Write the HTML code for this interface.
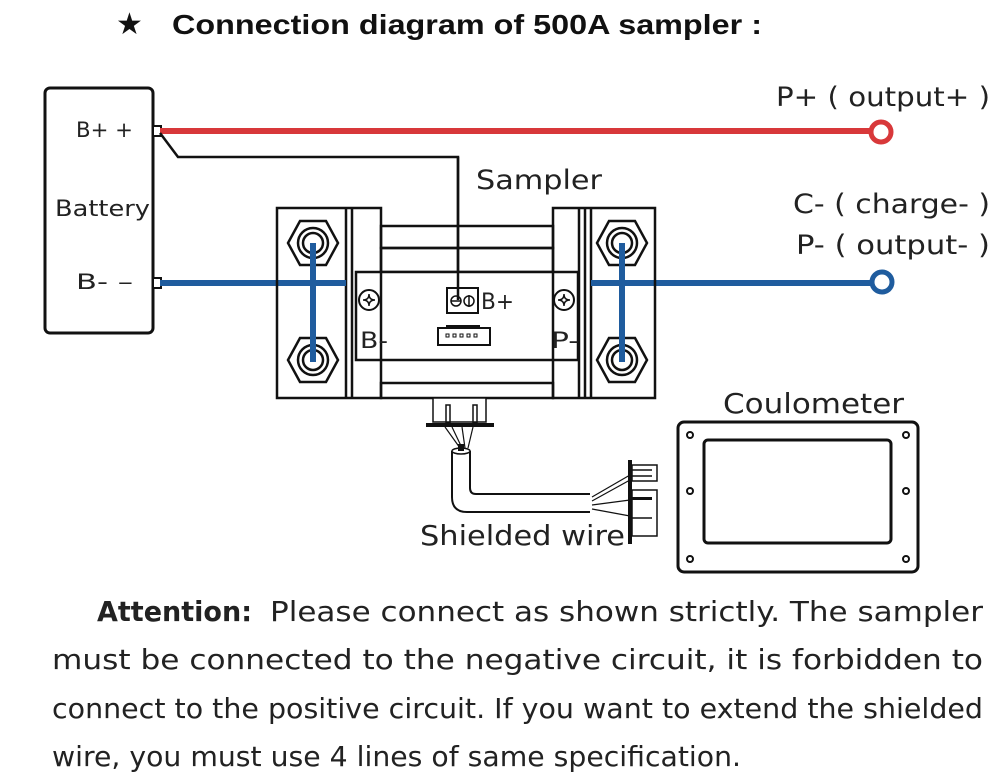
<!DOCTYPE html>
<html><head><meta charset="utf-8"><style>
html,body{margin:0;padding:0;background:#fff;}
svg{display:block;}
</style></head><body>
<svg width="1000" height="780" viewBox="0 0 1000 780" xmlns="http://www.w3.org/2000/svg" font-family="DejaVu Sans, Liberation Sans, sans-serif">
<!-- title -->
<text x="116" y="34" font-size="30" fill="#111">★</text>
<text x="172" y="34" font-size="28" font-weight="bold" fill="#111" font-family="Liberation Sans, sans-serif" textLength="590" lengthAdjust="spacingAndGlyphs">Connection diagram of 500A sampler :</text>

<!-- battery -->
<rect x="45" y="88" width="108" height="245" rx="5" fill="none" stroke="#111" stroke-width="3"/>
<text x="76" y="137" font-size="21" fill="#222" textLength="57" lengthAdjust="spacingAndGlyphs">B+  +</text>
<text x="55" y="216" font-size="22" fill="#222" textLength="95" lengthAdjust="spacingAndGlyphs">Battery</text>
<text x="76" y="289" font-size="21" fill="#222" textLength="57" lengthAdjust="spacingAndGlyphs">B-  –</text>
<rect x="153" y="126" width="8" height="10" fill="#fff" stroke="#111" stroke-width="2"/>
<rect x="153" y="278" width="8" height="10" fill="#fff" stroke="#111" stroke-width="2"/>

<!-- red line -->
<line x1="160" y1="131" x2="870" y2="131" stroke="#d8383a" stroke-width="6"/>
<circle cx="881" cy="132" r="10" fill="#fff" stroke="#d8383a" stroke-width="5"/>
<text x="776" y="106" font-size="27" fill="#222" textLength="214" lengthAdjust="spacingAndGlyphs">P+ ( output+ )</text>

<!-- thin black wire -->
<polyline points="160,133 178,157 458,157 458,300" fill="none" stroke="#111" stroke-width="2.5"/>

<!-- blue line -->
<line x1="160" y1="283" x2="313" y2="283" stroke="#1f5c9e" stroke-width="6"/>
<line x1="622" y1="283" x2="872" y2="283" stroke="#1f5c9e" stroke-width="6"/>
<circle cx="882" cy="282" r="10" fill="#fff" stroke="#1f5c9e" stroke-width="5"/>
<text x="793" y="213" font-size="27" fill="#222" textLength="197" lengthAdjust="spacingAndGlyphs">C- ( charge- )</text>
<text x="796" y="254" font-size="27" fill="#222" textLength="194" lengthAdjust="spacingAndGlyphs">P- ( output- )</text>
<text x="476" y="189" font-size="27" fill="#222" textLength="126" lengthAdjust="spacingAndGlyphs">Sampler</text>

<!-- sampler -->
<g fill="none" stroke="#111" stroke-width="2.5">
<rect x="381" y="226" width="172" height="22"/>
<rect x="381" y="248" width="172" height="24"/>
<rect x="381" y="383" width="172" height="15"/>
<rect x="356" y="272" width="222" height="88" fill="#fff"/>
<rect x="277" y="208" width="104" height="190"/>
<line x1="346" y1="208" x2="346" y2="398"/>
<line x1="352" y1="208" x2="352" y2="398"/>
<rect x="553" y="208" width="102" height="190"/>
<line x1="579" y1="208" x2="579" y2="398"/>
<line x1="585" y1="208" x2="585" y2="398"/>
<line x1="591" y1="208" x2="591" y2="398"/>
</g>
<!-- hex nuts -->
<g fill="#fff" stroke="#111" stroke-width="2.5">
<polygon points="288,243 300,221 326,221 338,243 326,265 300,265"/>
<circle cx="313" cy="243" r="15"/><circle cx="313" cy="243" r="10"/>
<polygon points="288,360 300,338 326,338 338,360 326,382 300,382"/>
<circle cx="313" cy="360" r="15"/><circle cx="313" cy="360" r="10"/>
<polygon points="597,243 609,221 635,221 647,243 635,265 609,265"/>
<circle cx="622" cy="243" r="15"/><circle cx="622" cy="243" r="10"/>
<polygon points="597,360 609,338 635,338 647,360 635,382 609,382"/>
<circle cx="622" cy="360" r="15"/><circle cx="622" cy="360" r="10"/>
</g>
<line x1="313" y1="243" x2="313" y2="362" stroke="#1f5c9e" stroke-width="6"/>
<line x1="622" y1="243" x2="622" y2="362" stroke="#1f5c9e" stroke-width="6"/>
<line x1="313" y1="283" x2="346" y2="283" stroke="#1f5c9e" stroke-width="6"/>
<line x1="591" y1="283" x2="622" y2="283" stroke="#1f5c9e" stroke-width="6"/>
<!-- screws -->
<g fill="#fff" stroke="#111" stroke-width="2">
<circle cx="369" cy="300" r="10"/><circle cx="564" cy="300" r="10"/>
</g>
<g fill="none" stroke="#111" stroke-width="1.5">
<path d="M363,300 Q369,300 369,294 Q369,300 375,300 Q369,300 369,306 Q369,300 363,300Z"/>
<path d="M558,300 Q564,300 564,294 Q564,300 570,300 Q564,300 564,306 Q564,300 558,300Z"/>
</g>
<!-- B+ terminal -->
<rect x="447" y="288" width="31" height="25" fill="#fff" stroke="#111" stroke-width="2"/>
<circle cx="456" cy="301" r="5" fill="none" stroke="#111" stroke-width="1.5"/>
<line x1="451" y1="301" x2="461" y2="301" stroke="#111" stroke-width="1.5"/>
<circle cx="469" cy="301" r="5" fill="none" stroke="#111" stroke-width="1.5"/>
<line x1="469" y1="295" x2="469" y2="307" stroke="#111" stroke-width="1.5"/>
<line x1="458" y1="157" x2="458" y2="300" stroke="#111" stroke-width="2.5"/>
<text x="481" y="309" font-size="22" fill="#222" textLength="33" lengthAdjust="spacingAndGlyphs">B+</text>
<text x="360" y="348" font-size="22" fill="#222" textLength="28" lengthAdjust="spacingAndGlyphs">B-</text>
<text x="551" y="348" font-size="22" fill="#222" textLength="28" lengthAdjust="spacingAndGlyphs">P-</text>
<!-- connector -->
<rect x="438" y="328" width="52" height="17" fill="#fff" stroke="#111" stroke-width="2"/>
<line x1="446" y1="326" x2="480" y2="326" stroke="#111" stroke-width="2"/>
<g fill="none" stroke="#111" stroke-width="1"><rect x="446" y="334" width="3" height="3"/><rect x="453" y="334" width="3" height="3"/><rect x="460" y="334" width="3" height="3"/><rect x="467" y="334" width="3" height="3"/><rect x="474" y="334" width="3" height="3"/></g>

<!-- bottom plug -->
<rect x="433" y="398" width="53" height="24" fill="#fff" stroke="#111" stroke-width="1.5"/>
<g fill="none" stroke="#111" stroke-width="1.5">
<rect x="446" y="405" width="4" height="18"/><rect x="473" y="405" width="4" height="18"/>
</g>
<rect x="426" y="423" width="68" height="4" fill="#111"/>
<g stroke="#111" stroke-width="1.2" fill="none">
<path d="M445,427 L460,448"/><path d="M452,427 L462,448"/><path d="M462,427 L465,448"/><path d="M473,427 L468,448"/>
</g>
<!-- cable -->
<path d="M452,451 L452,497 Q452,512 467,512 L590,512" fill="none" stroke="#111" stroke-width="2"/>
<path d="M470,451 L470,488 Q470,494 476,494 L590,494" fill="none" stroke="#111" stroke-width="2"/>
<ellipse cx="461" cy="451" rx="9" ry="3" fill="#fff" stroke="#111" stroke-width="1.5"/>
<rect x="458" y="444" width="6" height="7" fill="#111"/>
<g stroke="#111" stroke-width="1.2" fill="none">
<path d="M592,497 L630,475"/><path d="M592,501 L630,480"/><path d="M592,505 L630,500"/><path d="M592,509 L630,516"/>
</g>
<rect x="628" y="460" width="4" height="84" fill="#111"/>
<g fill="none" stroke="#111" stroke-width="1.5">
<rect x="632" y="465" width="25" height="16"/>
<rect x="632" y="490" width="25" height="46"/>
<line x1="632" y1="470" x2="652" y2="470"/><line x1="632" y1="476" x2="652" y2="476"/>
<line x1="632" y1="518" x2="652" y2="518"/>
</g>
<rect x="632" y="497" width="20" height="3" fill="#111"/>
<text x="420" y="545" font-size="28" fill="#222" textLength="205" lengthAdjust="spacingAndGlyphs">Shielded wire</text>

<!-- coulometer -->
<text x="723" y="413" font-size="28" fill="#222" textLength="181" lengthAdjust="spacingAndGlyphs">Coulometer</text>
<rect x="678" y="422" width="240" height="150" rx="6" fill="none" stroke="#111" stroke-width="3"/>
<rect x="704" y="440" width="187" height="103" rx="4" fill="none" stroke="#111" stroke-width="3"/>
<g fill="none" stroke="#111" stroke-width="2">
<circle cx="690" cy="435" r="3"/><circle cx="690" cy="491" r="3"/><circle cx="690" cy="559" r="3"/>
<circle cx="906" cy="435" r="3"/><circle cx="906" cy="491" r="3"/><circle cx="906" cy="559" r="3"/>
</g>

<!-- attention text -->
<g font-size="28" fill="#222">
<text x="97" y="621" font-weight="bold" textLength="155" lengthAdjust="spacingAndGlyphs">Attention:</text>
<text x="270" y="621" textLength="713" lengthAdjust="spacingAndGlyphs">Please  connect  as  shown  strictly.  The  sampler</text>
<text x="52" y="669" textLength="931" lengthAdjust="spacingAndGlyphs">must  be  connected  to  the  negative  circuit,  it  is  forbidden  to</text>
<text x="52" y="718" textLength="931" lengthAdjust="spacingAndGlyphs">connect to the positive circuit. If you want to extend the shielded</text>
<text x="52" y="766" textLength="689" lengthAdjust="spacingAndGlyphs">wire, you must use 4 lines of same specification.</text>
</g>
</svg>
</body></html>
